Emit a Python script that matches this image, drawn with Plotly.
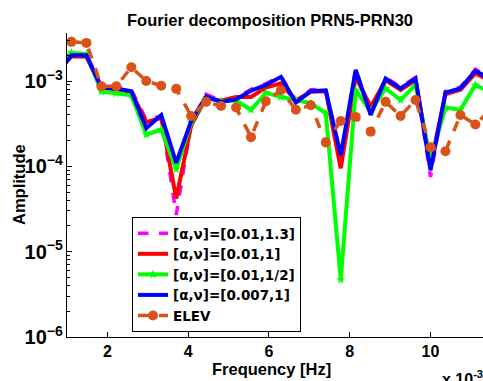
import plotly.graph_objects as go

freq = [0.741, 1.111, 1.481, 1.852, 2.222, 2.593, 2.963, 3.333, 3.704, 4.074,
        4.444, 4.815, 5.185, 5.556, 5.926, 6.296, 6.667, 7.037, 7.407, 7.778,
        8.148, 8.519, 8.889, 9.259, 9.630, 10.000, 10.370, 10.741, 11.111, 11.481]

amp_a = [1.25e-3, 2.05e-3, 2.05e-3, 8.6e-4, 8.4e-4, 7.9e-4, 3.5e-4, 3.9e-4, 2.7e-5, 3.2e-4,
         7.0e-4, 5.9e-4, 6.3e-4, 8.0e-4, 9.3e-4, 1.15e-3, 5.8e-4, 7.9e-4, 8.1e-4, 1.25e-4,
         1.4e-3, 4.1e-4, 1.1e-3, 8.5e-4, 1.1e-3, 7.5e-5, 7.6e-4, 8.5e-4, 1.37e-3, 1.08e-3]

amp_b = [1.25e-3, 1.95e-3, 1.93e-3, 8.3e-4, 8.0e-4, 7.4e-4, 3.3e-4, 3.7e-4, 4.2e-5, 3.0e-4,
         6.3e-4, 5.9e-4, 6.5e-4, 6.5e-4, 8.4e-4, 9.4e-4, 5.9e-4, 7.5e-4, 7.6e-4, 9.5e-5,
         1.12e-3, 5.0e-4, 1.02e-3, 7.9e-4, 1.02e-3, 1.05e-4, 7.0e-4, 7.9e-4, 1.23e-3, 1.0e-3]

amp_c = [1.6e-3, 2.14e-3, 2.07e-3, 7.5e-4, 7.2e-4, 6.8e-4, 2.35e-4, 2.7e-4, 9.3e-5, 3.3e-4,
         6.3e-4, 5.8e-4, 5.9e-4, 4.6e-4, 7.3e-4, 6.5e-4, 6.0e-4, 5.5e-4, 4.2e-4, 4.7e-6,
         7.8e-4, 4.4e-4, 8.2e-4, 6.0e-4, 9.0e-4, 1.2e-4, 4.9e-4, 4.6e-4, 9.0e-4, 7.4e-4]

amp_d = [1.22e-3, 2.0e-3, 2.0e-3, 8.4e-4, 8.2e-4, 7.6e-4, 2.8e-4, 4.0e-4, 1.1e-4, 3.4e-4,
         6.6e-4, 5.7e-4, 6.1e-4, 7.7e-4, 9.0e-4, 1.12e-3, 5.6e-4, 7.6e-4, 7.8e-4, 1.35e-4,
         1.35e-3, 4.0e-4, 1.07e-3, 8.2e-4, 1.07e-3, 9.0e-5, 7.3e-4, 8.2e-4, 1.32e-3, 1.05e-3]

amp_elev = [None, 2.88e-3, 2.8e-3, 8.7e-4, 8.7e-4, 1.45e-3, 1.0e-3, 8.8e-4, 8.1e-4, 3.9e-4,
            5.7e-4, 5.1e-4, 4.9e-4, 2.2e-4, 5.8e-4, 7.8e-4, 4.6e-4, 5.2e-4, 1.9e-4, 3.4e-4,
            3.8e-4, 2.55e-4, 5.7e-4, 3.9e-4, 6.0e-4, 1.67e-4, 1.5e-4, 4.0e-4, 3.1e-4, 4.6e-4]

names = ["[α,ν]=[0.01,1.3]", "[α,ν]=[0.01,1]", "[α,ν]=[0.01,1/2]", "[α,ν]=[0.007,1]", "ELEV"]

FONT = "Liberation Sans, Arial, sans-serif"
LEGFONT = "DejaVu Sans, Liberation Sans, sans-serif"
L, T, W, H = 67, 33, 416, 304

fig = go.Figure()
fig.add_trace(go.Scatter(x=freq, y=amp_a, name=names[0], mode="lines",
                         line=dict(color="#FF00FF", width=3.5, dash="dash")))
fig.add_trace(go.Scatter(x=freq, y=amp_b, name=names[1], mode="lines",
                         line=dict(color="#FF0000", width=4)))
fig.add_trace(go.Scatter(x=freq, y=amp_c, name=names[2], mode="lines+markers",
                         line=dict(color="#00FF00", width=4),
                         marker=dict(symbol="star", size=7, color="#00FF00")))
fig.add_trace(go.Scatter(x=freq, y=amp_d, name=names[3], mode="lines",
                         line=dict(color="#0000FF", width=4)))
fig.add_trace(go.Scatter(x=freq, y=amp_elev, name=names[4], mode="lines+markers",
                         line=dict(color="#D95319", width=3.5, dash="dash"),
                         marker=dict(symbol="circle", size=10, color="#D95319")))

def px_x(p):
    return (p - L) / W

def px_y(p):
    return (T + H - p) / H

fig.update_layout(
    width=483, height=381,
    margin=dict(l=L, r=0, t=T, b=381 - T - H, pad=0),
    paper_bgcolor="white", plot_bgcolor="white",
    font=dict(family=FONT, size=16, color="black", weight="bold"),
    showlegend=True,
    legend=dict(x=px_x(132), y=px_y(217), xanchor="left", yanchor="top",
                bgcolor="white", bordercolor="black", borderwidth=1,
                font=dict(family=LEGFONT, size=13.5, color="black", weight="bold"),
                itemwidth=30, tracegroupgap=0),
    xaxis=dict(range=[1, 11.3], tickvals=[2, 4, 6, 8, 10], ticktext=["2", "4", "6", "8", "10"],
               ticks="inside", ticklen=5, tickcolor="black", showline=True, linecolor="black",
               linewidth=1, showgrid=False, zeroline=False, mirror=False,
               tickfont=dict(family=FONT, size=16, color="black", weight="bold")),
    yaxis=dict(type="log", range=[-6, -2.437], dtick=1, exponentformat="power",
               ticks="inside", ticklen=5, tickcolor="black", showline=True, linecolor="black",
               linewidth=1, showgrid=False, zeroline=False,
               minor=dict(ticks="inside", ticklen=3, tickcolor="black", dtick="D1", showgrid=False),
               tickfont=dict(family=FONT, size=16, color="black", weight="bold")),
    annotations=[
        dict(text="Fourier decomposition PRN5-PRN30", x=px_x(269.5), y=px_y(20),
             xref="paper", yref="paper", showarrow=False, xanchor="center", yanchor="middle",
             font=dict(family=FONT, size=16.5, color="black", weight="bold")),
        dict(text="Frequency [Hz]", x=px_x(271), y=px_y(369),
             xref="paper", yref="paper", showarrow=False, xanchor="center", yanchor="middle",
             font=dict(family=FONT, size=16.5, color="black", weight="bold")),
        dict(text="Amplitude", x=px_x(19), y=px_y(185), textangle=-90,
             xref="paper", yref="paper", showarrow=False, xanchor="center", yanchor="middle",
             font=dict(family=FONT, size=16.5, color="black", weight="bold")),
        dict(text="x 10<sup>-3</sup>", x=px_x(440), y=px_y(366),
             xref="paper", yref="paper", showarrow=False, xanchor="left", yanchor="top",
             font=dict(family=FONT, size=16, color="black", weight="bold")),
    ],
)

fig.write_html("out.html")
